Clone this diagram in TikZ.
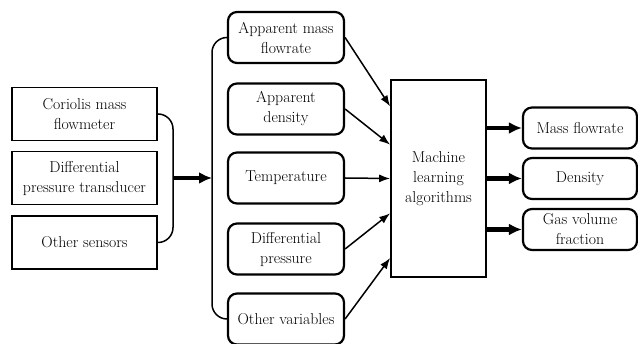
\documentclass[tikz,border=0pt]{standalone}
\usetikzlibrary{arrows.meta,calc}
\tikzset{
	txt/.style={inner sep=0pt, align=center, font=\fontsize{15.8}{20}\selectfont},
	sensor/.style={txt, draw, line width=1.7pt, minimum width=145pt, minimum height=53pt},
	feature/.style={txt, draw, line width=2.2pt, rounded corners=9pt, minimum width=116pt, minimum height=51pt},
	mlbox/.style={txt, draw, line width=1.7pt, minimum width=95pt, minimum height=197pt},
	result/.style={txt, draw, line width=2.2pt, rounded corners=9pt, minimum width=114pt, minimum height=41pt},
	thinarrow/.style={-{Latex[length=11pt,width=8pt]}, line width=1.5pt},
	fatarrow/.style={-{Latex[length=13pt,width=12pt]}, line width=4.5pt},
	brace/.style={line width=1.5pt, rounded corners=15pt}
}
\begin{document}
\begin{tikzpicture}[x=1pt, y=-1pt]
		\useasboundingbox (0,0) rectangle (638,344);
		% sensors
		\node[sensor] (cor) at (84.5,114){Coriolis mass\\flowmeter};
		\node[sensor] (dpt) at (84.5,178){Differential\\pressure transducer};
		\node[sensor] (oth) at (84.5,242.5){Other sensors};
		% measured variables
		\node[feature] (amf) at (286,37.5){Apparent mass\\flowrate};
		\node[feature] (aden) at (286,109){Apparent\\density};
		\node[feature] (temp) at (286,178){Temperature};
		\node[feature] (dp) at (286,249){Differential\\pressure};
		\node[feature] (ovar) at (286,319){Other variables};
		% model
		\node[mlbox] (ml) at (438.5,178.5){Machine\\learning\\algorithms};
		% outputs
		\node[result] (mf) at (580,128){Mass flowrate};
		\node[result] (den) at (580,178.5){Density};
		\node[result] (gvf) at (580,229.5){Gas volume\\fraction};
		% braces
		\coordinate (lb) at (173,178);
		\coordinate (rb) at (212,178);
		\draw[brace] (cor.east) -| (lb) |- (oth.east);
		\draw[brace] (amf.west) -| (rb) |- (ovar.west);
		\draw[fatarrow] (lb) -- (rb);
		% inputs to model
		\draw[thinarrow] (amf.east) -- ($(ml.north west)!0.137!(ml.south west)$);
		\draw[thinarrow] (aden.east) -- ($(ml.north west)!0.33!(ml.south west)$);
		\draw[thinarrow] (temp.east) -- (ml.west);
		\draw[thinarrow] (dp.east) -- ($(ml.north west)!0.675!(ml.south west)$);
		\draw[thinarrow] (ovar.east) -- ($(ml.north west)!0.9!(ml.south west)$);
		% outputs of model
		\draw[fatarrow] (ml.east |- mf) -- (mf.west);
		\draw[fatarrow] (ml.east |- den) -- (den.west);
		\draw[fatarrow] (ml.east |- gvf) -- (gvf.west);
	\end{tikzpicture}
\end{document}
